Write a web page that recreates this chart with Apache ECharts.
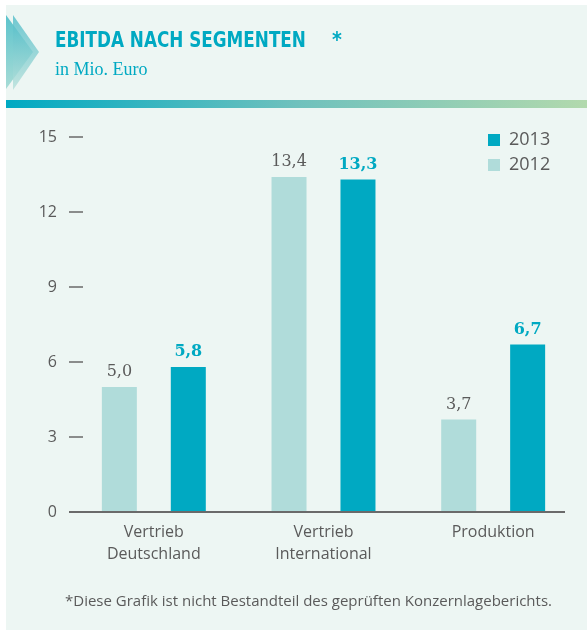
<!DOCTYPE html>
<html>
<head>
<meta charset="utf-8">
<script src="https://cdn.jsdelivr.net/npm/echarts@6/dist/echarts.min.js"></script>
<style>
html, body { margin: 0; padding: 0; background: #ffffff; }
#chart { width: 587px; height: 630px; }
</style>
</head>
<body>
<div id="chart"></div>
<script>
var categories = ['Vertrieb\nDeutschland', 'Vertrieb\nInternational', 'Produktion'];
var values2012 = [5.0, 13.4, 3.7];
var values2013 = [5.8, 13.3, 6.7];
var yTicks = [0, 3, 6, 9, 12, 15];

var light = '#b0dcda';
var dark = '#00a9c2';
var grey = '#5a5a5a';

function fmt(v) {
    return v.toFixed(1).replace('.', ',');
}

var myChart = echarts.init(document.getElementById('chart'));
var option = {
    backgroundColor: '#ffffff',
    animation: false,
    graphic: [
        // hintergrund
        { type: 'rect', left: 6, top: 5, z: -10, shape: { width: 581, height: 625 }, style: { fill: '#edf6f3' } },
        {
            type: 'polygon', z: -5,
            shape: { points: [[6, 15], [33, 52], [6, 89]] },
            style: { fill: new echarts.graphic.LinearGradient(0, 0, 0, 1, [{ offset: 0, color: '#5cc3cc' }, { offset: 1, color: '#a8dcd6' }]) }
        },
        {
            type: 'polygon', z: -4,
            shape: { points: [[13, 15], [39, 52], [13, 90]] },
            style: { fill: new echarts.graphic.LinearGradient(0, 0, 0, 1, [{ offset: 0, color: '#4fbcc8' }, { offset: 1, color: '#b7e0da' }]), opacity: 0.8 }
        },
        {
            type: 'rect', left: 6, top: 100, z: -5,
            shape: { width: 581, height: 8 },
            style: { fill: new echarts.graphic.LinearGradient(0, 0, 1, 0, [{ offset: 0, color: '#00a9c2' }, { offset: 0.5, color: '#6fc1bd' }, { offset: 1, color: '#b2d9ad' }]) }
        },
        {
            type: 'text', x: 55, y: 31, scaleX: 0.89,
            style: { text: 'EBITDA NACH SEGMENTEN', fill: dark, font: '600 21px "DejaVu Sans Condensed", "Liberation Sans Narrow", sans-serif' }
        },
        {
            type: 'text', x: 332, y: 31,
            style: { text: '*', fill: dark, font: '600 21px "DejaVu Sans Condensed", sans-serif' }
        },
        {
            type: 'text', left: 55, top: 61,
            style: { text: 'in Mio. Euro', fill: dark, font: '18px "Liberation Serif", serif' }
        },
        {
            type: 'text', left: 65, top: 594,
            style: { text: '*Diese Grafik ist nicht Bestandteil des geprüften Konzernlageberichts.', fill: grey, font: '15px "Open Sans", sans-serif' }
        },
        // achsenlinie
        {
            type: 'line', z: 10,
            shape: { x1: 69, y1: 512, x2: 565, y2: 512 },
            style: { stroke: '#6a6a6a', lineWidth: 2 }
        }
    ],
    legend: {
        data: ['2013', '2012'],
        orient: 'vertical',
        left: 488, top: 131, padding: 0,
        itemWidth: 12, itemHeight: 12, itemGap: 7,
        icon: 'rect',
        textStyle: { color: grey, fontSize: 18, fontFamily: 'Open Sans', padding: [0, 0, 0, 4] }
    },
    grid: { left: 69, right: 9, top: 137, bottom: 118, containLabel: false },
    xAxis: {
        type: 'category',
        data: categories,
        axisLine: { show: false },
        axisTick: { show: false },
        axisLabel: { color: grey, fontSize: 16, fontFamily: 'Open Sans', lineHeight: 22, margin: 9 }
    },
    yAxis: {
        type: 'value',
        min: yTicks[0], max: yTicks[yTicks.length - 1], interval: 3,
        axisLine: { show: false },
        axisTick: { show: true, inside: true, length: 14, lineStyle: { color: '#6a6a6a', width: 1.5 } },
        splitLine: { show: false },
        axisLabel: { color: grey, fontSize: 16, fontFamily: 'Open Sans', margin: 12 }
    },
    series: [
        {
            name: '2012', type: 'bar', data: values2012,
            barWidth: 35, barGap: '97%',
            itemStyle: { color: light },
            label: { show: true, position: 'top', distance: 7, color: grey, fontSize: 16, fontFamily: 'DejaVu Serif', formatter: function (p) { return fmt(p.value); } }
        },
        {
            name: '2013', type: 'bar', data: values2013,
            barWidth: 35,
            itemStyle: { color: dark },
            label: { show: true, position: 'top', distance: 7, color: dark, fontSize: 16, fontWeight: 'bold', fontFamily: 'DejaVu Serif', formatter: function (p) { return fmt(p.value); } }
        }
    ]
};
myChart.setOption(option);
window.addEventListener('resize', function () { myChart.resize(); });
</script>
</body>
</html>
